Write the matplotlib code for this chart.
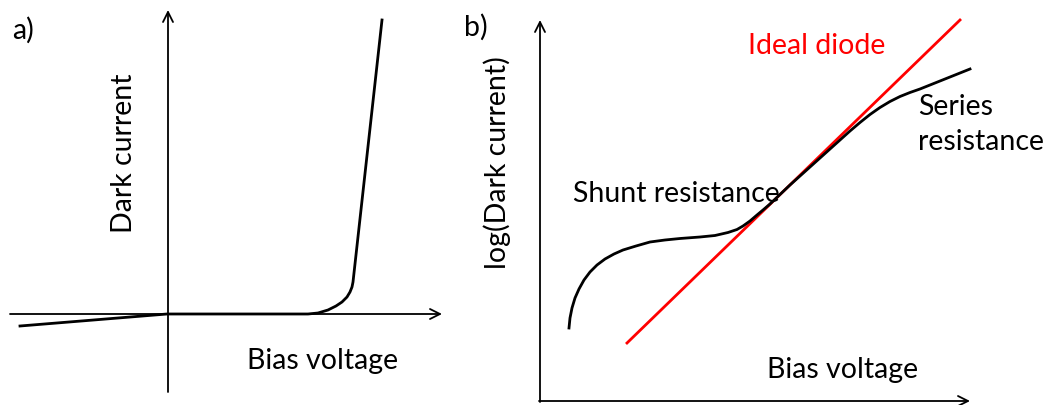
import numpy as np
import matplotlib.pyplot as plt

# panel a: dark current vs bias (pixel-space sketch)
a_curve_x = [20, 167, 308, 318, 328, 336, 342, 347, 350, 352, 353, 382]
a_curve_y = [326, 314, 314, 313, 310, 306, 302, 297, 292, 287, 282, 20]

# panel b: log(dark current) vs bias
b_curve_x = [569, 570, 572, 575, 579, 584, 590, 597, 605, 614, 623, 636, 650, 665,
             680, 700, 715, 728, 737, 743, 750, 757, 763, 770, 780, 790, 800, 810,
             820, 830, 840, 850, 860, 870, 880, 890, 900, 910, 920, 935, 950, 970]
b_curve_y = [328, 318, 308, 298, 289, 280, 272, 265, 259, 254, 250, 246, 242, 240,
             238.5, 237, 235.5, 232.5, 229.5, 226, 221, 215, 210, 204, 194.5, 185,
             176, 167, 158, 149, 140, 131, 122.5, 114.5, 107.5, 101.5, 96.5, 92.5,
             89, 83, 77, 69]
ideal_x = [627, 960]
ideal_y = [343, 20]

font = ['Lato', 'DejaVu Sans']
fs = 20.5

fig = plt.figure(figsize=(10.49, 4.05), dpi=100)
ax = fig.add_axes([0, 0, 1, 1])
ax.set_xlim(0, 1049)
ax.set_ylim(405, 0)
ax.axis('off')

arrow = dict(arrowstyle='->', color='black', lw=1.3, mutation_scale=18, shrinkA=0, shrinkB=0)

# axes of panel a
ax.annotate('', xy=(168, 10), xytext=(168, 392), arrowprops=arrow)
ax.annotate('', xy=(442, 314), xytext=(10, 314), arrowprops=arrow)
ax.plot(a_curve_x, a_curve_y, color='black', lw=2)
ax.text(12, 30, 'a)', fontsize=fs, family=font, va='center', ha='left')
ax.text(124, 153, 'Dark current', fontsize=fs, family=font, rotation=90, va='center', ha='center')
ax.text(323, 361, 'Bias voltage', fontsize=fs, family=font, va='center', ha='center')

# axes of panel b
ax.annotate('', xy=(540, 20), xytext=(540, 402), arrowprops=arrow)
ax.annotate('', xy=(970, 401), xytext=(539, 401), arrowprops=arrow)
ax.plot(ideal_x, ideal_y, color='red', lw=2)
ax.plot(b_curve_x, b_curve_y, color='black', lw=2)
ax.text(464, 27, 'b)', fontsize=fs, family=font, va='center', ha='left')
ax.text(497, 163, 'log(Dark current)', fontsize=fs, family=font, rotation=90, va='center', ha='center')
ax.text(843, 370, 'Bias voltage', fontsize=fs, family=font, va='center', ha='center')
ax.text(817, 46, 'Ideal diode', fontsize=fs, family=font, color='red', va='center', ha='center')
ax.text(676, 194, 'Shunt resistance', fontsize=fs, family=font, va='center', ha='center')
ax.text(918, 107, 'Series', fontsize=fs, family=font, va='center', ha='left')
ax.text(918, 142, 'resistance', fontsize=fs, family=font, va='center', ha='left')

fig.savefig('out.png', dpi=100)
